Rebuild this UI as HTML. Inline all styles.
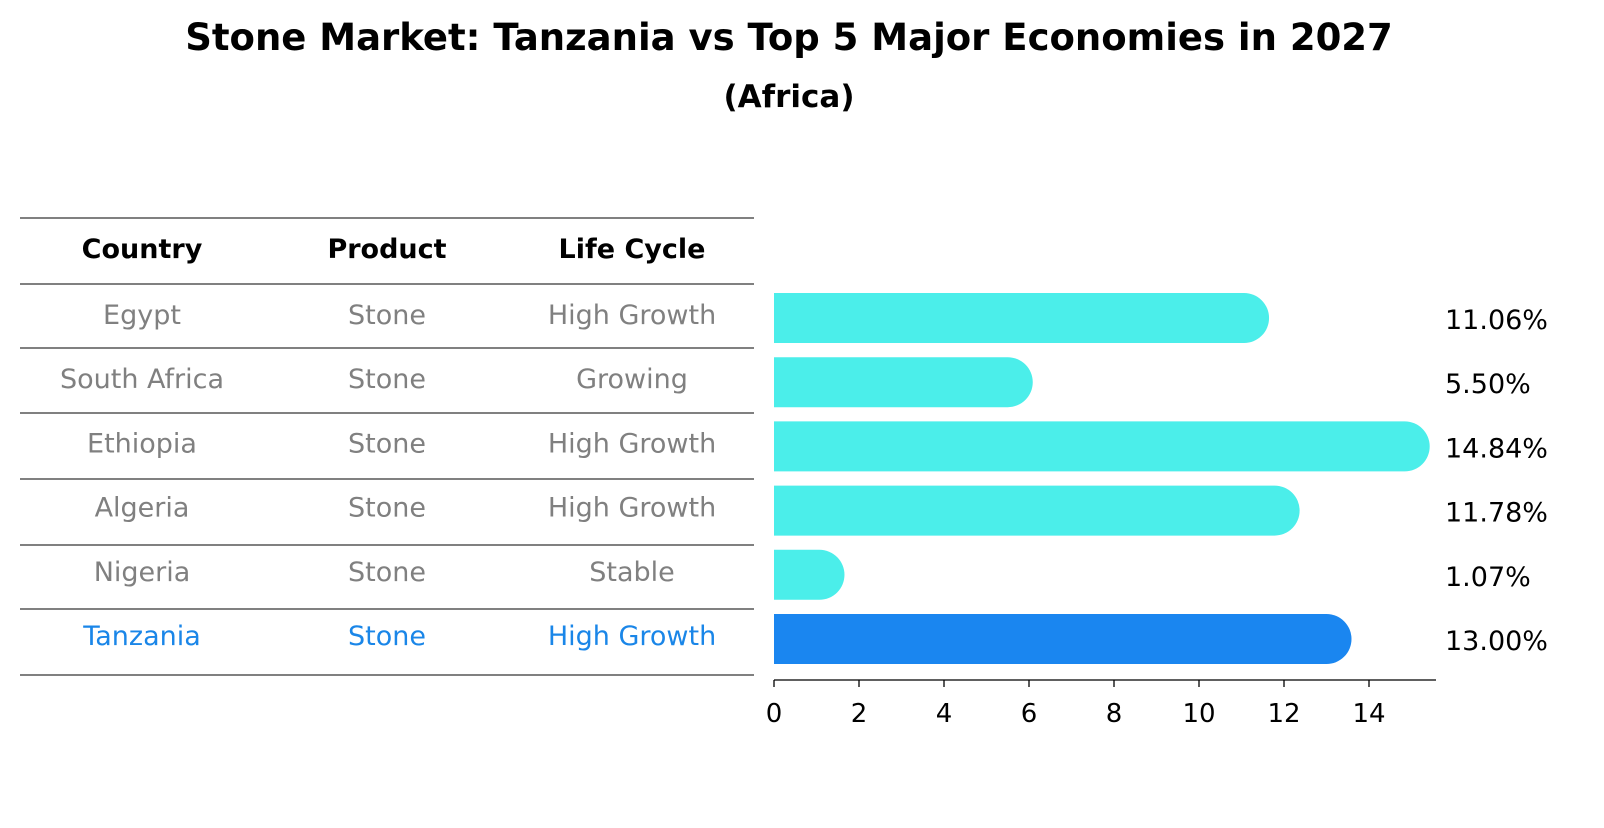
<!DOCTYPE html>
<html><head><meta charset="utf-8"><style>
body{margin:0;background:#fff;}
svg text{font-family:"DejaVu Sans","Liberation Sans",sans-serif;}
</style></head><body>
<svg width="1604" height="823" xmlns="http://www.w3.org/2000/svg">
<text x="789" y="50" text-anchor="middle" font-size="37" font-weight="bold">Stone Market: Tanzania vs Top 5 Major Economies in 2027</text>
<text x="789" y="107" text-anchor="middle" font-size="31" font-weight="bold">(Africa)</text>
<g id="table"></g>
<g id="bars"></g>
</svg>
<script>
const countries=["Egypt","South Africa","Ethiopia","Algeria","Nigeria","Tanzania"];
const products=["Stone","Stone","Stone","Stone","Stone","Stone"];
const lifeCycles=["High Growth","Growing","High Growth","High Growth","Stable","High Growth"];
const values=[11.06,5.50,14.84,11.78,1.07,13.00];
const valueLabels=["11.06%","5.50%","14.84%","11.78%","1.07%","13.00%"];
const ticks=[0,2,4,6,8,10,12,14];
const NS="http://www.w3.org/2000/svg";
function mk(tag,attrs,parent,txt){const e=document.createElementNS(NS,tag);for(const k in attrs)e.setAttribute(k,attrs[k]);if(txt!==undefined)e.textContent=txt;parent.appendChild(e);return e;}
const tbl=document.getElementById('table'), bars=document.getElementById('bars');
const x0=774, ppu=42.5;
const xs=v=>x0+v*ppu;
const rowY=i=>318+i*64.2;
const lineYs=[218,284,348,413,479,545,609,675];
lineYs.forEach(y=>{const l=mk('line',{x1:20,x2:754,y1:y,y2:y,stroke:'#000','stroke-width':1},tbl);

});
const colX=[142,387,632];
["Country","Product","Life Cycle"].forEach((h,j)=>{const t=mk('text',{x:colX[j],y:258,'text-anchor':'middle','font-size':27,'font-weight':'bold'},tbl,h);

});
countries.forEach((c,i)=>{
 const col=i===countries.length-1?'#1a86e8':'#808080';
 [c,products[i],lifeCycles[i]].forEach((v,j)=>{const t=mk('text',{x:colX[j],y:rowY(i)+6,'text-anchor':'middle','font-size':27,fill:col},tbl,v);
 
 });
 const isT=i===countries.length-1;
 const w=xs(values[i])-x0, h=50, y=rowY(i)-25;
 const p=mk('path',{d:`M${x0},${y} H${x0+w} A25,25 0 0 1 ${x0+w},${y+h} H${x0} Z`,fill:isT?'#1a86f0':'#4beeea'},bars);
 
 
 const t=mk('text',{x:1445,y:rowY(i)+11,'font-size':27,fill:'#000'},bars,valueLabels[i]);
 
 
});
const ax=mk('line',{x1:x0,x2:1436,y1:680,y2:680,stroke:'#000','stroke-width':1.3},bars);


ticks.forEach(v=>{const l=mk('line',{x1:xs(v),x2:xs(v),y1:680,y2:687,stroke:'#000','stroke-width':1.3},bars);


const t=mk('text',{x:xs(v),y:722,'text-anchor':'middle','font-size':26},bars,String(v));

});
</script>
</body></html>
